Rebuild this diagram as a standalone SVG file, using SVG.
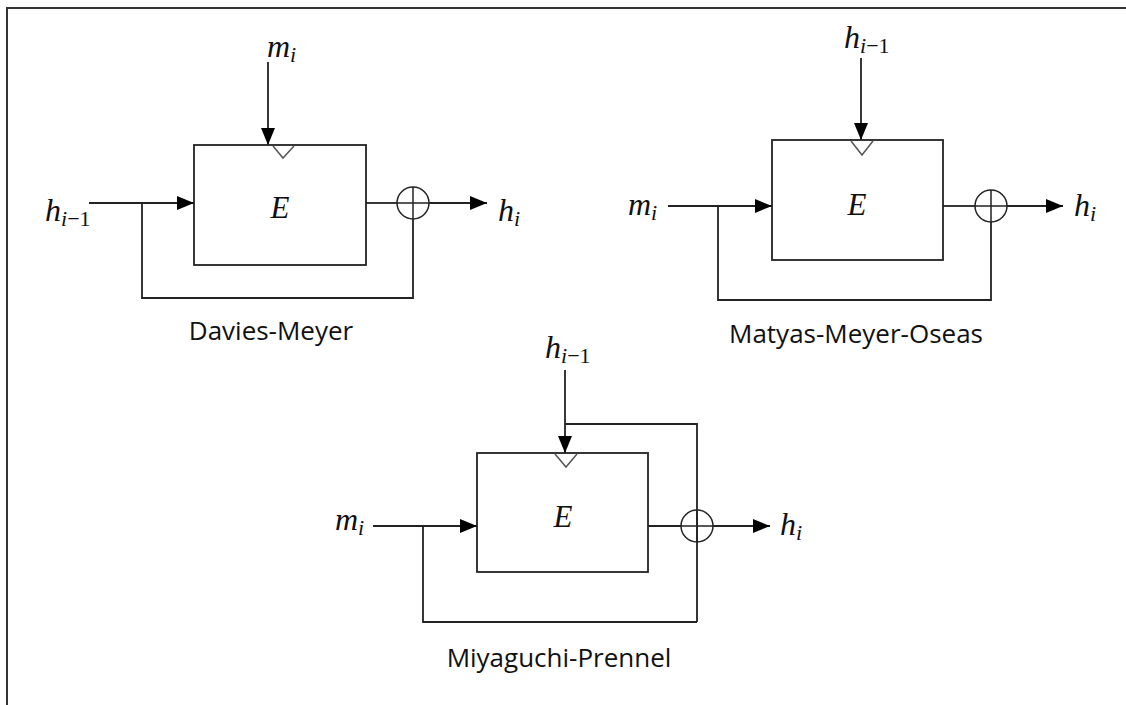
<svg xmlns="http://www.w3.org/2000/svg" width="1126" height="705" viewBox="0 0 1126 705">
<defs>
<style>
.ln{fill:none;stroke:#222;stroke-width:1.8}
.bx{fill:#fff;stroke:#222;stroke-width:1.8}
.tri{fill:none;stroke:#555;stroke-width:1.5}
.xor{fill:none;stroke:#222;stroke-width:1.5}
.m{font-family:"Liberation Serif","DejaVu Serif",serif;font-size:32px;fill:#111}
.it{font-style:italic}
.sub{font-size:22px}
.cap{font-family:"Open Sans","Noto Sans",sans-serif;font-size:26px;fill:#111;text-anchor:middle}
.E{font-family:"Liberation Serif","DejaVu Serif",serif;font-size:31px;font-style:italic;fill:#111;text-anchor:middle}
</style>
<marker id="ah" markerUnits="userSpaceOnUse" markerWidth="18" markerHeight="14" refX="17" refY="7" orient="auto">
<path d="M0,0 L17,7 L0,14 z" fill="#000"/>
</marker>
</defs>
<rect width="1126" height="705" fill="#fff"/>
<path d="M7,705 V8 H1126" fill="none" stroke="#333" stroke-width="2"/>

<g id="connectors">
<!-- Davies-Meyer -->
<path class="ln" d="M268,62 V145" marker-end="url(#ah)"/>
<path class="ln" d="M89,203 H194" marker-end="url(#ah)"/>
<path class="ln" d="M142,203 V298 H413 V219"/>
<path class="ln" d="M366,203 H397"/>
<path class="ln" d="M429,203 H487" marker-end="url(#ah)"/>
<!-- Matyas-Meyer-Oseas -->
<path class="ln" d="M861,58 V140" marker-end="url(#ah)"/>
<path class="ln" d="M668,206 H772" marker-end="url(#ah)"/>
<path class="ln" d="M718,206 V300 H991 V222"/>
<path class="ln" d="M943,206 H975"/>
<path class="ln" d="M1007,206 H1063" marker-end="url(#ah)"/>
<!-- Miyaguchi-Prennel -->
<path class="ln" d="M565,370 V453" marker-end="url(#ah)"/>
<path class="ln" d="M565,424 H697 V622"/>
<path class="ln" d="M373,526 H477" marker-end="url(#ah)"/>
<path class="ln" d="M423,526 V622 H697"/>
<path class="ln" d="M648,526 H681"/>
<path class="ln" d="M713,526 H770" marker-end="url(#ah)"/>
</g>

<g id="dm-E">
<rect class="bx" x="194" y="145" width="172" height="120"/>
<polyline class="tri" points="273,146 283,158 294,146"/>
<text class="E" x="280" y="218">E</text>
</g>
<g id="dm-xor">
<circle class="xor" cx="413" cy="203" r="16"/>
<path class="xor" d="M397,203 H429 M413,187 V219"/>
</g>
<g id="dm-labels">
<text class="m" x="45" y="221"><tspan class="it">h</tspan><tspan class="sub it" dy="5">i</tspan><tspan class="sub">−1</tspan></text>
<text class="m" x="267" y="57"><tspan class="it">m</tspan><tspan class="sub it" dy="5">i</tspan></text>
<text class="m" x="498" y="221"><tspan class="it">h</tspan><tspan class="sub it" dy="5">i</tspan></text>
<text class="cap" x="271" y="340">Davies-Meyer</text>
</g>

<g id="mmo-E">
<rect class="bx" x="772" y="140" width="171" height="120"/>
<polyline class="tri" points="851,141 862,155 873,141"/>
<text class="E" x="857" y="215">E</text>
</g>
<g id="mmo-xor">
<circle class="xor" cx="991" cy="206" r="16"/>
<path class="xor" d="M975,206 H1007 M991,190 V222"/>
</g>
<g id="mmo-labels">
<text class="m" x="844" y="48"><tspan class="it">h</tspan><tspan class="sub it" dy="5">i</tspan><tspan class="sub">−1</tspan></text>
<text class="m" x="628" y="215"><tspan class="it">m</tspan><tspan class="sub it" dy="5">i</tspan></text>
<text class="m" x="1074" y="216"><tspan class="it">h</tspan><tspan class="sub it" dy="5">i</tspan></text>
<text class="cap" x="856" y="343">Matyas-Meyer-Oseas</text>
</g>

<g id="mp-E">
<rect class="bx" x="477" y="453" width="171" height="119"/>
<polyline class="tri" points="555,454 566,467 577,454"/>
<text class="E" x="563" y="527">E</text>
</g>
<g id="mp-xor">
<circle class="xor" cx="697" cy="526" r="16"/>
<path class="xor" d="M681,526 H713 M697,510 V542"/>
</g>
<g id="mp-labels">
<text class="m" x="545" y="358"><tspan class="it">h</tspan><tspan class="sub it" dy="5">i</tspan><tspan class="sub">−1</tspan></text>
<text class="m" x="335" y="530"><tspan class="it">m</tspan><tspan class="sub it" dy="5">i</tspan></text>
<text class="m" x="780" y="535"><tspan class="it">h</tspan><tspan class="sub it" dy="5">i</tspan></text>
<text class="cap" x="559" y="667">Miyaguchi-Prennel</text>
</g>
</svg>
